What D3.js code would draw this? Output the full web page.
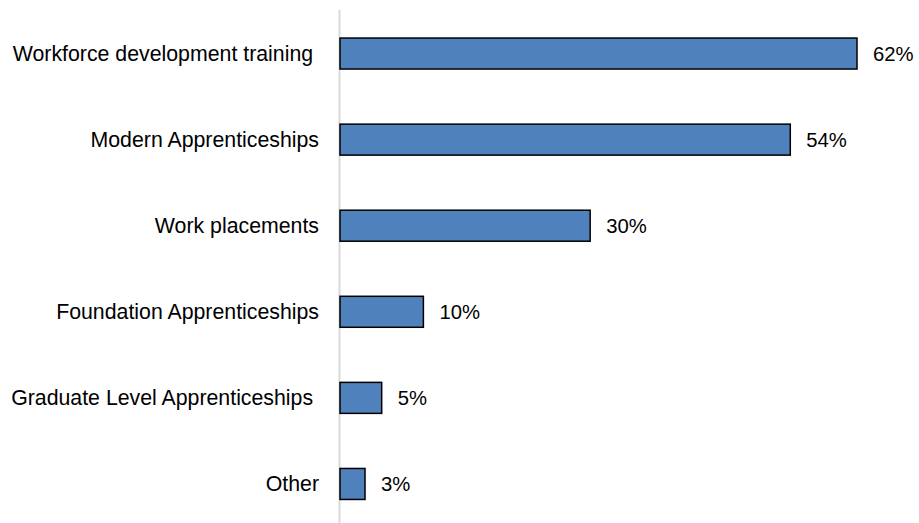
<!DOCTYPE html>
<html>
<head>
<meta charset="utf-8">
<script src="https://cdn.jsdelivr.net/npm/d3@7"></script>
<style>
  html, body { margin: 0; padding: 0; background: #fff; }
  svg text { font-family: "Liberation Sans", Arial, sans-serif; fill: #000; white-space: pre; }
</style>
</head>
<body>
<svg id="chart" width="919" height="523"></svg>
<script>
// Training types offered, share of respondents
const categories = [
  "Workforce development training ",
  "Modern Apprenticeships",
  "Work placements",
  "Foundation Apprenticeships",
  "Graduate Level Apprenticeships ",
  "Other"
];
const values = [62, 54, 30, 10, 5, 3];
const valueLabels = ["62%", "54%", "30%", "10%", "5%", "3%"];

const svg = d3.select("#chart");
const height = 523;

const x = d3.scaleLinear().domain([0, 62]).range([340, 857]);
const y = d3.scaleBand()
  .domain(categories)
  .range([10.5, 527])
  .paddingInner(0.64)
  .paddingOuter(0.32);

// vertical category axis line
svg.append("line")
  .attr("x1", 339.5).attr("x2", 339.5)
  .attr("y1", 10).attr("y2", height)
  .attr("stroke", "#d9d9d9").attr("stroke-width", 2);

svg.append("g").selectAll("rect")
  .data(values)
  .join("rect")
  .attr("x", x(0))
  .attr("y", (d, i) => y(categories[i]))
  .attr("width", d => x(d) - x(0))
  .attr("height", y.bandwidth())
  .attr("fill", "#4f81bd")
  .attr("stroke", "#000")
  .attr("stroke-width", 1.5);

svg.append("g").selectAll("text")
  .data(categories)
  .join("text")
  .attr("x", 319)
  .attr("y", d => y(d) + y.bandwidth() / 2)
  .attr("dy", "0.35em")
  .attr("text-anchor", "end")
  .attr("font-size", 21.3)
  .text(d => d);

svg.append("g").selectAll("text")
  .data(values)
  .join("text")
  .attr("x", d => x(d) + 16)
  .attr("y", (d, i) => y(categories[i]) + y.bandwidth() / 2)
  .attr("dy", "0.35em")
  .attr("font-size", 20.3)
  .text((d, i) => valueLabels[i]);
</script>
</body>
</html>
